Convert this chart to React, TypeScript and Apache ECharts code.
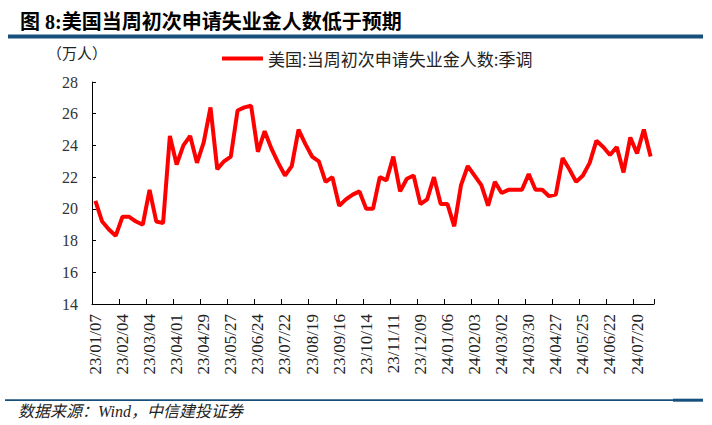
import React, { useEffect, useRef } from "react";
import * as echarts from "echarts";

const dates: string[] = [
  "23/01/07", "23/01/14", "23/01/21", "23/01/28", "23/02/04", "23/02/11", "23/02/18", "23/02/25",
  "23/03/04", "23/03/11", "23/03/18", "23/03/25", "23/04/01", "23/04/08", "23/04/15", "23/04/22",
  "23/04/29", "23/05/06", "23/05/13", "23/05/20", "23/05/27", "23/06/03", "23/06/10", "23/06/17",
  "23/06/24", "23/07/01", "23/07/08", "23/07/15", "23/07/22", "23/07/29", "23/08/05", "23/08/12",
  "23/08/19", "23/08/26", "23/09/02", "23/09/09", "23/09/16", "23/09/23", "23/09/30", "23/10/07",
  "23/10/14", "23/10/21", "23/10/28", "23/11/04", "23/11/11", "23/11/18", "23/11/25", "23/12/02",
  "23/12/09", "23/12/16", "23/12/23", "23/12/30", "24/01/06", "24/01/13", "24/01/20", "24/01/27",
  "24/02/03", "24/02/10", "24/02/17", "24/02/24", "24/03/02", "24/03/09", "24/03/16", "24/03/23",
  "24/03/30", "24/04/06", "24/04/13", "24/04/20", "24/04/27", "24/05/04", "24/05/11", "24/05/18",
  "24/05/25", "24/06/01", "24/06/08", "24/06/15", "24/06/22", "24/06/29", "24/07/06", "24/07/13",
  "24/07/20", "24/07/27", "24/08/03",
];

const claims: number[] = [
  20.5, 19.2, 18.7, 18.3, 19.5, 19.5, 19.2, 19.0,
  21.2, 19.2, 19.1, 24.6, 22.8, 24.0, 24.6, 22.9,
  24.2, 26.4, 22.5, 23.0, 23.3, 26.2, 26.4, 26.5,
  23.6, 24.9, 23.8, 22.9, 22.1, 22.7, 25.0, 24.1,
  23.3, 23.0, 21.7, 22.0, 20.2, 20.6, 20.9, 21.1,
  20.0, 20.0, 22.0, 21.8, 23.3, 21.1, 21.9, 22.1,
  20.3, 20.6, 22.0, 20.3, 20.3, 18.9, 21.5, 22.7,
  22.1, 21.5, 20.2, 21.7, 21.0, 21.2, 21.2, 21.2,
  22.2, 21.2, 21.2, 20.8, 20.9, 23.2, 22.5, 21.7,
  22.1, 22.9, 24.3, 23.9, 23.4, 23.9, 22.3, 24.5,
  23.5, 25.0, 23.3,
];

const seriesName = "美国:当周初次申请失业金人数:季调";
const titleText = "图 8:美国当周初次申请失业金人数低于预期";
const unitText = "（万人）";
const sourceText = "数据来源：Wind，中信建投证券";
const yMin = 14;
const yMax = 28;
const yStep = 2;

const SERIF = "'Liberation Serif', 'Noto Sans CJK SC'";
const CJK = "'Noto Sans CJK SC'";

export default function App() {
  const ref = useRef<HTMLDivElement>(null);
  useEffect(() => {
    if (!ref.current) return;
    const chart = echarts.init(ref.current, null, { renderer: "svg" });
    chart.setOption({
      animation: false,
      backgroundColor: "#ffffff",
      grid: { left: 92, right: 58, top: 82, bottom: 121, containLabel: false },
      legend: {
        left: 222,
        top: 50,
        padding: 0,
        icon: "rect",
        itemWidth: 41,
        itemHeight: 4,
        itemGap: 10,
        textStyle: { fontSize: 17, fontFamily: CJK, color: "#222" },
        data: [seriesName],
      },
      xAxis: {
        type: "category",
        data: dates,
        boundaryGap: true,
        axisLine: { show: true, lineStyle: { color: "#000", width: 1 } },
        axisTick: { show: true, inside: true, length: 5, interval: 3, lineStyle: { color: "#000" } },
        axisLabel: {
          interval: 3,
          rotate: 90,
          fontSize: 17,
          fontFamily: SERIF,
          color: "#222",
          margin: 10,
        },
        splitLine: { show: false },
      },
      yAxis: {
        type: "value",
        min: yMin,
        max: yMax,
        interval: yStep,
        axisLine: { show: true, lineStyle: { color: "#000", width: 1 } },
        axisTick: { show: true, inside: true, length: 4, lineStyle: { color: "#000" } },
        axisLabel: { fontSize: 16, fontFamily: SERIF, color: "#333", margin: 14 },
        splitLine: { show: false },
      },
      series: [
        {
          name: seriesName,
          type: "line",
          data: claims,
          symbol: "none",
          lineStyle: { color: "#ff0000", width: 4 },
          itemStyle: { color: "#ff0000" },
        },
      ],
      graphic: [
        {
          type: "text",
          left: 20,
          top: 12,
          style: { text: titleText, fontSize: 20, fontWeight: "bold", fontFamily: SERIF, fill: "#000" },
        },
        {
          type: "rect",
          shape: { x: 8, y: 34.5, width: 695, height: 4 },
          style: { fill: "#17507d" },
        },
        {
          type: "text",
          left: 47,
          top: 45,
          style: { text: unitText, fontSize: 15, fontFamily: CJK, fill: "#222" },
        },
        {
          type: "rect",
          shape: { x: 5, y: 399.3, width: 670, height: 1.8 },
          style: { fill: "#17507d" },
        },
        {
          type: "rect",
          shape: { x: 673, y: 398.7, width: 30, height: 3 },
          style: { fill: "#17507d" },
        },
        {
          type: "text",
          left: 18,
          top: 403,
          style: { text: sourceText, fontSize: 16, fontStyle: "italic", fontFamily: SERIF, fill: "#222" },
        },
      ],
    });
    return () => chart.dispose();
  }, []);
  return (
    <div
      ref={ref}
      style={{ position: "fixed", left: 0, top: 0, width: 712, height: 425, background: "#fff" }}
    />
  );
}
